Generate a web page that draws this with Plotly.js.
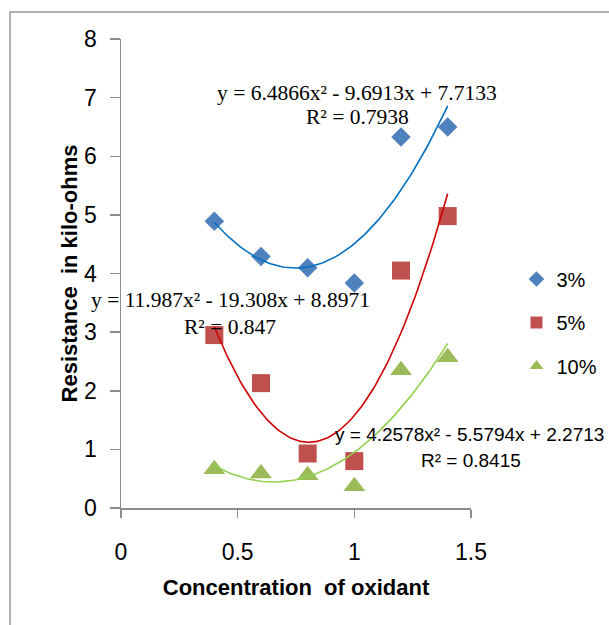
<!DOCTYPE html>
<html>
<head>
<meta charset="utf-8">
<script src="https://cdn.plot.ly/plotly-3.0.1.min.js"></script>
<style>html,body{margin:0;padding:0;background:#fff;}#chart{width:609px;height:625px;}</style>
</head>
<body>
<div id="chart"></div>
<script>
// Data
var concentration = [0.4, 0.6, 0.8, 1.0, 1.2, 1.4];
var series3 = [4.89, 4.29, 4.10, 3.84, 6.33, 6.50];
var series5 = [2.95, 2.13, 0.93, 0.80, 4.05, 4.98];
var series10 = [0.66, 0.59, 0.56, 0.37, 2.35, 2.57];
var seriesNames = ["3%", "5%", "10%"];
// Polynomial trendline coefficients as printed on the chart [a, b, c] for a x^2 + b x + c
var coef3 = [6.4866, -9.6913, 7.7133];
var coef5 = [11.987, -19.308, 8.8971];
var coef10 = [4.2578, -5.5794, 2.2713];
var eqText3 = ["y = 6.4866x² - 9.6913x + 7.7133", "R² = 0.7938"];
var eqText5 = ["y = 11.987x² - 19.308x + 8.8971", "R² = 0.847"];
var eqText10 = ["y = 4.2578x² - 5.5794x + 2.2713", "R² = 0.8415"];
var xTicks = [0, 0.5, 1, 1.5];
var yTicks = [0, 1, 2, 3, 4, 5, 6, 7, 8];

function trend(coef) {
  var xs = [], ys = [];
  var x0 = concentration[0], x1 = concentration[concentration.length - 1];
  var n = 100;
  for (var i = 0; i <= n; i++) {
    var x = x0 + (x1 - x0) * i / n;
    xs.push(x);
    ys.push(coef[0] * x * x + coef[1] * x + coef[2]);
  }
  return {x: xs, y: ys};
}
var t3 = trend(coef3), t5 = trend(coef5), t10 = trend(coef10);

var sans = "Liberation Sans, Arial, sans-serif";
var serif = "Liberation Serif, Times New Roman, serif";
var axisColor = "#8c8c8c";

var traces = [
  {x: concentration, y: series3, name: seriesNames[0], mode: "markers", type: "scatter", legendgroup: "a",
   marker: {symbol: "diamond", size: 15, color: "#4F81BD"}},
  {x: concentration, y: series5, name: seriesNames[1], mode: "markers", type: "scatter", legendgroup: "b",
   marker: {symbol: "square", size: 18, color: "#C0504D"}},
  {x: concentration, y: series10, name: seriesNames[2], mode: "markers", type: "scatter", legendgroup: "c",
   marker: {symbol: "triangle-up", size: 19, color: "#9BBB59"}},
  {x: t3.x, y: t3.y, mode: "lines", type: "scatter", showlegend: false, hoverinfo: "skip",
   line: {color: "#0070C0", width: 1.6}},
  {x: t5.x, y: t5.y, mode: "lines", type: "scatter", showlegend: false, hoverinfo: "skip",
   line: {color: "#CC0000", width: 1.6}},
  {x: t10.x, y: t10.y, mode: "lines", type: "scatter", showlegend: false, hoverinfo: "skip",
   line: {color: "#92D050", width: 1.6}}
];

var serifFont = {family: serif, size: 21.5, color: "#000"};
var sansAnnFont = {family: sans, size: 19, color: "#000"};

var layout = {
  width: 609, height: 625,
  margin: {l: 121, r: 138, t: 39, b: 117, pad: 0, autoexpand: false},
  paper_bgcolor: "#fff", plot_bgcolor: "#fff",
  showlegend: true,
  legend: {
    x: 1.13, xanchor: "left", y: 0.53, yanchor: "top",
    font: {family: sans, size: 20, color: "#000"},
    traceorder: "grouped", tracegroupgap: 14.5, itemsizing: "constant",
    bgcolor: "rgba(0,0,0,0)"
  },
  xaxis: {
    range: [0, 1.5], tickvals: xTicks, ticktext: xTicks.map(String),
    showgrid: false, zeroline: false, showline: true, linecolor: axisColor, linewidth: 1.5,
    ticks: "outside", ticklen: 8, tickwidth: 1.5, tickcolor: axisColor,
    tickfont: {family: sans, size: 23, color: "#000"}, ticklabelstandoff: 15,
    title: {text: "<b>Concentration  of oxidant</b>", font: {family: sans, size: 22, color: "#000"}, standoff: 15}
  },
  yaxis: {
    range: [0, 8], tickvals: yTicks, ticktext: yTicks.map(String),
    showgrid: false, zeroline: false, showline: true, linecolor: axisColor, linewidth: 1.5,
    ticks: "outside", ticklen: 10, tickwidth: 1.5, tickcolor: axisColor,
    tickfont: {family: sans, size: 23, color: "#000"}, ticklabelstandoff: 8,
    title: {text: "<b>Resistance  in kilo-ohms</b>", font: {family: sans, size: 22, color: "#000"}, standoff: 0}
  },
  shapes: [
    {type: "rect", xref: "paper", yref: "paper", x0: -0.317, x1: 1.42, y0: -0.3, y1: 1.0576,
     line: {color: "#999999", width: 1.5}, layer: "below"}
  ],
  annotations: [
    {x: 1.012, y: 7.08, xref: "x", yref: "y", text: eqText3[0], showarrow: false, font: serifFont, xanchor: "center", yanchor: "middle"},
    {x: 1.012, y: 6.67, xref: "x", yref: "y", text: eqText3[1], showarrow: false, font: serifFont, xanchor: "center", yanchor: "middle"},
    {x: 0.47, y: 3.54, xref: "x", yref: "y", text: eqText5[0], showarrow: false, font: serifFont, xanchor: "center", yanchor: "middle"},
    {x: 0.466, y: 3.09, xref: "x", yref: "y", text: eqText5[1], showarrow: false, font: serifFont, xanchor: "center", yanchor: "middle"},
    {x: 0.909, y: 1.26, xref: "x", yref: "y", text: eqText10[0], showarrow: false, font: sansAnnFont, xanchor: "left", yanchor: "middle"},
    {x: 1.0, y: 0.81, xref: "paper", yref: "y", text: eqText10[1], showarrow: false, font: sansAnnFont, xanchor: "center", yanchor: "middle"}
  ]
};

Plotly.newPlot("chart", traces, layout, {displayModeBar: false, staticPlot: true});
</script>
</body>
</html>
